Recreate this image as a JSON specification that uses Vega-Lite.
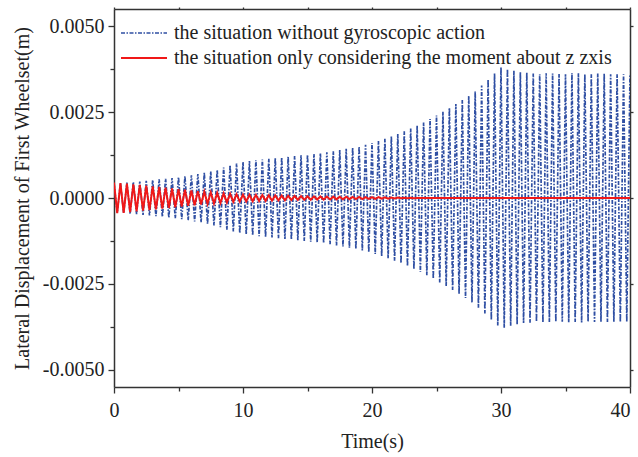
{
"$schema":"https://vega.github.io/schema/vega-lite/v6.json",
"width":516,"height":378,
"autosize":{"type":"none"},
"padding":{"left":114,"top":9,"right":8,"bottom":70},
"background":"white",
"config":{"view":{"stroke":null},"font":"Liberation Serif",
"axis":{"labelFont":"Liberation Serif","titleFont":"Liberation Serif","labelFontSize":20,"titleFontSize":20,"labelColor":"#222","titleColor":"#222","titleFontWeight":"normal","domainColor":"#333","domainWidth":1.5,"tickColor":"#333","tickWidth":1.3,"grid":false},
"legend":{"orient":"none","symbolType":"stroke","symbolSize":2116,"symbolStrokeWidth":1.6,"labelFont":"Liberation Serif","labelFontSize":20,"labelColor":"#222","labelOffset":6,"padding":0,"labelLimit":500,"title":null}},
"data":{"values":[
{"t":0,"a":4.2e-4,"b":4.5e-4},{"t":0.25,"a":-4.3e-4,"b":-4.4e-4},{"t":0.5,"a":4.35e-4,"b":4.35e-4},{"t":0.75,"a":-4.4e-4,"b":-4.3e-4},
{"t":1,"a":4.5e-4,"b":4.2e-4},{"t":1.25,"a":-4.6e-4,"b":-4.1e-4},{"t":1.5,"a":4.65e-4,"b":4.0e-4},{"t":1.75,"a":-4.7e-4,"b":-3.9e-4},
{"t":2,"a":4.8e-4,"b":3.8e-4},{"t":2.25,"a":-4.9e-4,"b":-3.7e-4},{"t":2.5,"a":5.0e-4,"b":3.6e-4},{"t":2.75,"a":-5.1e-4,"b":-3.5e-4},
{"t":3,"a":5.2e-4,"b":3.4e-4},{"t":3.25,"a":-5.3e-4,"b":-3.3e-4},{"t":3.5,"a":5.4e-4,"b":3.2e-4},{"t":3.75,"a":-5.5e-4,"b":-3.1e-4},
{"t":4,"a":5.6e-4,"b":3.0e-4},{"t":4.25,"a":-5.7e-4,"b":-2.9e-4},{"t":4.5,"a":5.8e-4,"b":2.8e-4},{"t":4.75,"a":-5.9e-4,"b":-2.7e-4},
{"t":5,"a":6.0e-4,"b":2.6e-4},{"t":5.25,"a":-6.15e-4,"b":-2.5e-4},{"t":5.5,"a":6.3e-4,"b":2.4e-4},{"t":5.75,"a":-6.45e-4,"b":-2.3e-4},
{"t":6,"a":6.6e-4,"b":2.2e-4},{"t":6.25,"a":-6.8e-4,"b":-2.1e-4},{"t":6.5,"a":6.95e-4,"b":2.0e-4},{"t":6.75,"a":-7.1e-4,"b":-1.9e-4},
{"t":7,"a":7.3e-4,"b":1.8e-4},{"t":7.25,"a":-7.5e-4,"b":-1.7e-4},{"t":7.5,"a":7.75e-4,"b":1.65e-4},{"t":7.75,"a":-8.0e-4,"b":-1.6e-4},
{"t":8,"a":8.2e-4,"b":1.5e-4},{"t":8.25,"a":-8.5e-4,"b":-1.45e-4},{"t":8.5,"a":8.85e-4,"b":1.35e-4},{"t":8.75,"a":-9.2e-4,"b":-1.3e-4},
{"t":9,"a":9.5e-4,"b":1.2e-4},{"t":9.25,"a":-9.75e-4,"b":-1.15e-4},{"t":9.5,"a":1.0e-3,"b":1.1e-4},{"t":9.75,"a":-1.025e-3,"b":-1.05e-4},
{"t":10,"a":1.05e-3,"b":1.0e-4},{"t":10.25,"a":-1.06e-3,"b":-0.98e-4},{"t":10.5,"a":1.075e-3,"b":0.95e-4},{"t":10.75,"a":-1.09e-3,"b":-0.93e-4},
{"t":11,"a":1.1e-3,"b":0.9e-4},{"t":11.25,"a":-1.11e-3,"b":-0.88e-4},{"t":11.5,"a":1.12e-3,"b":0.85e-4},{"t":11.75,"a":-1.13e-3,"b":-0.83e-4},
{"t":12,"a":1.14e-3,"b":0.8e-4},{"t":12.25,"a":-1.15e-3,"b":-0.78e-4},{"t":12.5,"a":1.16e-3,"b":0.75e-4},{"t":12.75,"a":-1.17e-3,"b":-0.73e-4},
{"t":13,"a":1.18e-3,"b":0.7e-4},{"t":13.25,"a":-1.19e-3,"b":-0.68e-4},{"t":13.5,"a":1.2e-3,"b":0.65e-4},{"t":13.75,"a":-1.21e-3,"b":-0.63e-4},
{"t":14,"a":1.22e-3,"b":0.6e-4},{"t":14.25,"a":-1.23e-3,"b":-0.58e-4},{"t":14.5,"a":1.24e-3,"b":0.55e-4},{"t":14.75,"a":-1.25e-3,"b":-0.53e-4},
{"t":15,"a":1.26e-3,"b":0.5e-4},{"t":15.25,"a":-1.27e-3,"b":-0.49e-4},{"t":15.5,"a":1.28e-3,"b":0.48e-4},{"t":15.75,"a":-1.29e-3,"b":-0.46e-4},
{"t":16,"a":1.3e-3,"b":0.45e-4},{"t":16.25,"a":-1.315e-3,"b":-0.44e-4},{"t":16.5,"a":1.33e-3,"b":0.43e-4},{"t":16.75,"a":-1.345e-3,"b":-0.41e-4},
{"t":17,"a":1.36e-3,"b":0.4e-4},{"t":17.25,"a":-1.38e-3,"b":-0.39e-4},{"t":17.5,"a":1.395e-3,"b":0.38e-4},{"t":17.75,"a":-1.41e-3,"b":-0.36e-4},
{"t":18,"a":1.43e-3,"b":0.35e-4},{"t":18.25,"a":-1.45e-3,"b":-0.34e-4},{"t":18.5,"a":1.465e-3,"b":0.33e-4},{"t":18.75,"a":-1.48e-3,"b":-0.31e-4},
{"t":19,"a":1.5e-3,"b":0.3e-4},{"t":19.25,"a":-1.525e-3,"b":-0.29e-4},{"t":19.5,"a":1.55e-3,"b":0.28e-4},{"t":19.75,"a":-1.575e-3,"b":-0.26e-4},
{"t":20,"a":1.6e-3,"b":0.25e-4},{"t":20.25,"a":-1.63e-3,"b":-0.24e-4},{"t":20.5,"a":1.66e-3,"b":0.23e-4},{"t":20.75,"a":-1.69e-3,"b":-0.21e-4},
{"t":21,"a":1.72e-3,"b":0.2e-4},{"t":21.25,"a":-1.755e-3,"b":-0.18e-4},{"t":21.5,"a":1.79e-3,"b":0.16e-4},{"t":21.75,"a":-1.825e-3,"b":-0.14e-4},
{"t":22,"a":1.86e-3,"b":0.12e-4},{"t":22.25,"a":-1.9e-3,"b":-0.1e-4},{"t":22.5,"a":1.94e-3,"b":0.09e-4},{"t":22.75,"a":-1.98e-3,"b":-0.08e-4},
{"t":23,"a":2.02e-3,"b":0.06e-4},{"t":23.25,"a":-2.065e-3,"b":-0.05e-4},{"t":23.5,"a":2.11e-3,"b":0.03e-4},{"t":23.75,"a":-2.155e-3,"b":-0.02e-4},
{"t":24,"a":2.2e-3,"b":0},{"t":24.25,"a":-2.25e-3,"b":0},{"t":24.5,"a":2.3e-3,"b":0},{"t":24.75,"a":-2.35e-3,"b":0},
{"t":25,"a":2.4e-3,"b":0},{"t":25.25,"a":-2.455e-3,"b":0},{"t":25.5,"a":2.51e-3,"b":0},{"t":25.75,"a":-2.565e-3,"b":0},
{"t":26,"a":2.62e-3,"b":0},{"t":26.25,"a":-2.68e-3,"b":0},{"t":26.5,"a":2.735e-3,"b":0},{"t":26.75,"a":-2.79e-3,"b":0},
{"t":27,"a":2.85e-3,"b":0},{"t":27.25,"a":-2.91e-3,"b":0},{"t":27.5,"a":2.975e-3,"b":0},{"t":27.75,"a":-3.04e-3,"b":0},
{"t":28,"a":3.1e-3,"b":0},{"t":28.25,"a":-3.19e-3,"b":0},{"t":28.5,"a":3.275e-3,"b":0},{"t":28.75,"a":-3.36e-3,"b":0},
{"t":29,"a":3.45e-3,"b":0},{"t":29.25,"a":-3.54e-3,"b":0},{"t":29.5,"a":3.625e-3,"b":0},{"t":29.75,"a":-3.71e-3,"b":0},
{"t":30,"a":3.8e-3,"b":0},{"t":30.25,"a":-3.78e-3,"b":0},{"t":30.5,"a":3.75e-3,"b":0},{"t":30.75,"a":-3.72e-3,"b":0},
{"t":31,"a":3.7e-3,"b":0},{"t":31.25,"a":-3.68e-3,"b":0},{"t":31.5,"a":3.66e-3,"b":0},{"t":31.75,"a":-3.64e-3,"b":0},
{"t":32,"a":3.65e-3,"b":0},{"t":32.25,"a":-3.63e-3,"b":0},{"t":32.5,"a":3.62e-3,"b":0},{"t":32.75,"a":-3.6e-3,"b":0},
{"t":33,"a":3.6e-3,"b":0},{"t":33.25,"a":-3.62e-3,"b":0},{"t":33.5,"a":3.63e-3,"b":0},{"t":33.75,"a":-3.61e-3,"b":0},
{"t":34,"a":3.62e-3,"b":0},{"t":34.25,"a":-3.6e-3,"b":0},{"t":34.5,"a":3.61e-3,"b":0},{"t":34.75,"a":-3.6e-3,"b":0},
{"t":35,"a":3.6e-3,"b":0},{"t":35.25,"a":-3.62e-3,"b":0},{"t":35.5,"a":3.63e-3,"b":0},{"t":35.75,"a":-3.61e-3,"b":0},
{"t":36,"a":3.63e-3,"b":0},{"t":36.25,"a":-3.62e-3,"b":0},{"t":36.5,"a":3.6e-3,"b":0},{"t":36.75,"a":-3.6e-3,"b":0},
{"t":37,"a":3.6e-3,"b":0},{"t":37.25,"a":-3.61e-3,"b":0},{"t":37.5,"a":3.62e-3,"b":0},{"t":37.75,"a":-3.6e-3,"b":0},
{"t":38,"a":3.62e-3,"b":0},{"t":38.25,"a":-3.61e-3,"b":0},{"t":38.5,"a":3.6e-3,"b":0},{"t":38.75,"a":-3.6e-3,"b":0},
{"t":39,"a":3.6e-3,"b":0},{"t":39.25,"a":-3.61e-3,"b":0},{"t":39.5,"a":3.6e-3,"b":0},{"t":39.75,"a":-3.6e-3,"b":0},
{"t":40,"a":3.6e-3,"b":0}
]},
"transform":[{"fold":["a","b"],"as":["s","y"]}],
"layer":[
{"transform":[{"filter":"datum.s == 'a'"}],
"mark":{"type":"line","clip":true,"strokeWidth":1.7,"strokeDash":[4,1.5,1.5,1.5]},
"encoding":{
"x":{"field":"t","type":"quantitative","scale":{"domain":[0,40],"nice":false,"zero":false},
"axis":{"orient":"bottom","title":"Time(s)","values":[0,5,10,15,20,25,30,35,40],"labelExpr":"datum.value % 10 === 0 ? datum.label : ''","tickSize":{"condition":{"test":"datum.value % 10 === 0","value":6},"value":4},"labelAlign":{"condition":{"test":"datum.value == 40","value":"right"},"value":"center"},"labelPadding":7,"titlePadding":11,"labelFlush":false}},
"y":{"field":"y","type":"quantitative","scale":{"domain":[-0.0055,0.0055],"nice":false,"zero":false},
"axis":{"orient":"left","title":"Lateral Displacement of First Wheelset(m)","values":[-0.005,-0.00375,-0.0025,-0.00125,0,0.00125,0.0025,0.00375,0.005],"format":".4f","labelExpr":"abs(datum.value/0.0025 - round(datum.value/0.0025)) < 0.001 ? replace(datum.label, '\u2212', '-') : ''","tickSize":{"condition":{"test":"abs(datum.value/0.0025 - round(datum.value/0.0025)) < 0.001","value":6},"value":4},"labelPadding":4,"titlePadding":10}},
"color":{"field":"s","type":"nominal","scale":{"domain":["a"],"range":["#2f4fa3"]},
"legend":{"legendX":6,"legendY":0,"symbolDash":[4,1.5,1.5,1.5],"labelExpr":"'the situation without gyroscopic action'"}}
}},
{"transform":[{"filter":"datum.s == 'b'"}],
"mark":{"type":"line","clip":true,"strokeWidth":2},
"encoding":{
"x":{"field":"t","type":"quantitative","axis":null},
"y":{"field":"y","type":"quantitative","axis":null},
"color":{"field":"s","type":"nominal","scale":{"domain":["b"],"range":["#f01818"]},
"legend":{"legendX":6,"legendY":25,"symbolStrokeWidth":2,"labelExpr":"'the situation only considering the moment about z zxis'"}}
}},
{"mark":{"type":"point","opacity":0},
"encoding":{
"x":{"field":"t","type":"quantitative","axis":{"orient":"top","title":null,"labels":false,"values":[0,5,10,15,20,25,30,35,40],"tickSize":2}},
"y":{"field":"y","type":"quantitative","axis":{"orient":"right","title":null,"labels":false,"values":[-0.005,-0.0025,0,0.0025,0.005],"tickSize":3}}
}}
],
"resolve":{"axis":{"x":"independent","y":"independent"},"scale":{"color":"independent"},"legend":{"color":"independent"}}
}
